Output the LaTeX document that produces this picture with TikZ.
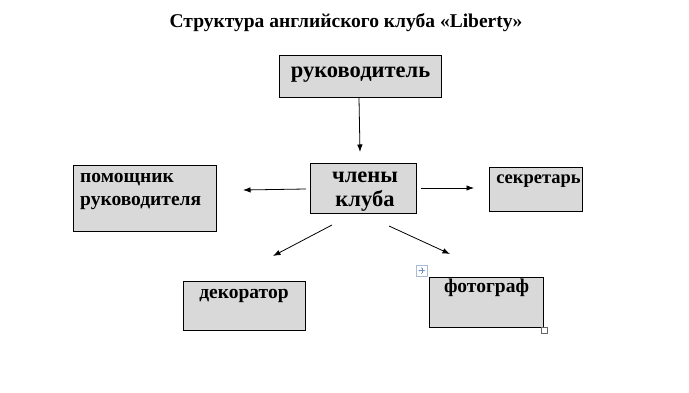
\documentclass[tikz,border=0pt]{standalone}
\usepackage{fontspec}
\setmainfont{Liberation Serif}[BoldFont={Liberation Serif Bold}]
\usetikzlibrary{arrows.meta}
\definecolor{boxgray}{HTML}{D9D9D9}
\definecolor{handleblue}{HTML}{6F8FB8}
\tikzset{
  box/.style={draw=black, line width=0.9pt, fill=boxgray, rectangle, inner sep=0pt, anchor=north west},
  lbl/.style={inner sep=0pt, font=\bfseries, text=black},
  big/.style={lbl, font=\bfseries\fontsize{22.5}{24}\selectfont},
  mid/.style={lbl, font=\bfseries\fontsize{19.5}{23}\selectfont},
  arr/.style={draw=black, line width=0.8pt, -{Latex[length=7.5pt,width=5.5pt]}}
}
\begin{document}
\begin{tikzpicture}[x=1pt,y=-1pt]
\useasboundingbox[fill=white] (0,0) rectangle (689,393);
% title
\node[lbl, font=\bfseries\fontsize{19.5}{22}\selectfont] (title) at (346,23) {Структура английского клуба «Liberty»};
% boxes
\node[box, minimum width=162, minimum height=42] (ruk) at (279,55) {};
\node[big] (rukt) at (360.5,75) {руководитель};
\node[box, minimum width=106, minimum height=50] (chl) at (310,163) {};
\node[big, align=center] (chlt) at (365,192) {члены\\клуба};
\node[box, minimum width=143, minimum height=66] (pom) at (73,165) {};
\node[mid, align=left, anchor=north west] (pomt) at (80,173) {помощник\\руководителя};
\node[box, minimum width=93, minimum height=44] (sek) at (489,167) {};
\node[mid, font=\bfseries\fontsize{18.5}{22}\selectfont] (sekt) at (538.5,181) {секретарь};
\node[box, minimum width=122, minimum height=49] (dek) at (183,281) {};
\node[mid] (dekt) at (244,296) {декоратор};
\node[box, minimum width=114, minimum height=50] (fot) at (429,277) {};
\node[mid] (fott) at (486.5,288) {фотограф};
% arrow endpoints
\coordinate (a1s) at (359,98);
\coordinate (a1e) at (360,152);
\coordinate (a2s) at (306,189);
\coordinate (a2e) at (243,190);
\coordinate (a3s) at (421,188);
\coordinate (a3e) at (474,188);
\coordinate (a4s) at (332,225);
\coordinate (a4e) at (273,256);
\coordinate (a5s) at (389,226);
\coordinate (a5e) at (450,254);
\draw[arr] (a1s) -- (a1e);
\draw[arr] (a2s) -- (a2e);
\draw[arr] (a3s) -- (a3e);
\draw[arr] (a4s) -- (a4e);
\draw[arr] (a5s) -- (a5e);
% word handles
\node[draw=handleblue!60, fill=white, line width=0.5pt, minimum size=11, inner sep=0pt, anchor=north west] (mv) at (416,265) {};
\draw[handleblue, line width=0.5pt, {Stealth[length=1.5pt]}-{Stealth[length=1.5pt]}] ([xshift=-3.5]mv.center) -- ([xshift=3.5]mv.center);
\draw[handleblue, line width=0.5pt, {Stealth[length=1.5pt]}-{Stealth[length=1.5pt]}] ([yshift=-3.5]mv.center) -- ([yshift=3.5]mv.center);
\node[draw=black!60, fill=white, line width=0.5pt, minimum size=6, inner sep=0pt] (rs) at (544.5,330.5) {};
\end{tikzpicture}
\end{document}
